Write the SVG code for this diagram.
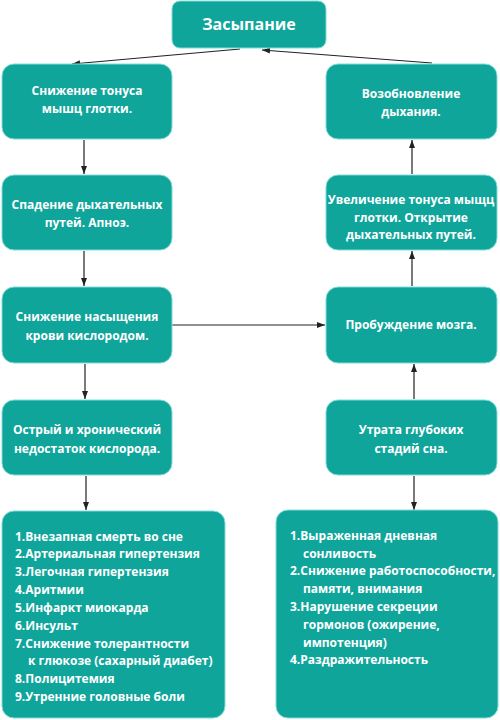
<svg xmlns="http://www.w3.org/2000/svg" width="500" height="720" viewBox="0 0 500 720">
<defs>
<marker id="ah" viewBox="0 0 10 10" refX="10" refY="5" markerWidth="8" markerHeight="6" orient="auto" markerUnits="userSpaceOnUse" preserveAspectRatio="none"><path d="M0,0 L10,5 L0,10 z" fill="#222"/></marker>
</defs>
<style>
.box{fill:#0fa59b;stroke:#7fdcd6;stroke-width:1}
.t{font-family:"Open Sans","DejaVu Sans",sans-serif;font-weight:bold;font-size:12px;fill:#fff}
.c{text-anchor:middle}
.title{font-size:16px}
.ln{stroke:#222;stroke-width:1.2;fill:none;marker-end:url(#ah)}
</style>
<rect width="500" height="720" fill="#fff"/>
<g id="connectors">
<line class="ln" x1="240" y1="49" x2="72" y2="64"/>
<line class="ln" x1="432" y1="63" x2="262" y2="50"/>
<line class="ln" x1="84" y1="140" x2="84" y2="174"/>
<line class="ln" x1="84" y1="251" x2="84" y2="286"/>
<line class="ln" x1="85" y1="364" x2="85" y2="399"/>
<line class="ln" x1="86" y1="476" x2="86" y2="510"/>
<line class="ln" x1="172" y1="325" x2="325" y2="325"/>
<line class="ln" x1="412" y1="174" x2="412" y2="140"/>
<line class="ln" x1="412" y1="286" x2="412" y2="251"/>
<line class="ln" x1="414" y1="399" x2="414" y2="364"/>
<line class="ln" x1="414" y1="476" x2="414" y2="510"/>
</g>
<g id="n0"><rect class="box" x="172" y="1" width="154" height="47" rx="8"/><text class="t c title" x="249" y="30">Засыпание</text></g>
<g id="n1"><rect class="box" x="2" y="64" width="170" height="75" rx="12"/><text class="t c" x="87" y="95">Снижение тонуса</text><text class="t c" x="87" y="113">мышц глотки.</text></g>
<g id="n2"><rect class="box" x="2" y="175" width="170" height="75" rx="12"/><text class="t c" x="87" y="209">Спадение дыхательных</text><text class="t c" x="87" y="227">путей. Апноэ.</text></g>
<g id="n3"><rect class="box" x="2" y="287" width="170" height="76" rx="12"/><text class="t c" x="87" y="321">Снижение насыщения</text><text class="t c" x="87" y="340">крови кислородом.</text></g>
<g id="n4"><rect class="box" x="2" y="400" width="170" height="75" rx="12"/><text class="t c" x="87" y="434">Острый и хронический</text><text class="t c" x="87" y="453">недостаток кислорода.</text></g>
<g id="n5"><rect class="box" x="2" y="511" width="223" height="207" rx="12"/>
<text class="t" x="15" y="541">1.Внезапная смерть во сне</text>
<text class="t" x="15" y="558">2.Артериальная гипертензия</text>
<text class="t" x="15" y="576">3.Легочная гипертензия</text>
<text class="t" x="15" y="594">4.Аритмии</text>
<text class="t" x="15" y="612">5.Инфаркт миокарда</text>
<text class="t" x="15" y="630">6.Инсульт</text>
<text class="t" x="15" y="648">7.Снижение толерантности</text>
<text class="t" x="28" y="665">к глюкозе (сахарный диабет)</text>
<text class="t" x="15" y="683">8.Полицитемия</text>
<text class="t" x="15" y="701">9.Утренние головные боли</text>
</g>
<g id="r1"><rect class="box" x="326" y="64" width="171" height="75" rx="12"/><text class="t c" x="411" y="98">Возобновление</text><text class="t c" x="411" y="116">дыхания.</text></g>
<g id="r2"><rect class="box" x="326" y="175" width="171" height="75" rx="12"/><text class="t c" x="411" y="204">Увеличение тонуса мыщц</text><text class="t c" x="411" y="222">глотки. Открытие</text><text class="t c" x="411" y="239">дыхательных путей.</text></g>
<g id="r3"><rect class="box" x="326" y="287" width="171" height="76" rx="12"/><text class="t c" x="411" y="329">Пробуждение мозга.</text></g>
<g id="r4"><rect class="box" x="326" y="400" width="171" height="75" rx="12"/><text class="t c" x="411" y="434">Утрата глубоких</text><text class="t c" x="411" y="453">стадий сна.</text></g>
<g id="r5"><rect class="box" x="276" y="510" width="222" height="208" rx="12"/>
<text class="t" x="290" y="540">1.Выраженная дневная</text>
<text class="t" x="303" y="558">сонливость</text>
<text class="t" x="290" y="575">2.Снижение работоспособности,</text>
<text class="t" x="303" y="593">памяти, внимания</text>
<text class="t" x="290" y="611">3.Нарушение секреции</text>
<text class="t" x="303" y="629">гормонов (ожирение,</text>
<text class="t" x="303" y="647">импотенция)</text>
<text class="t" x="290" y="664">4.Раздражительность</text>
</g>
</svg>
